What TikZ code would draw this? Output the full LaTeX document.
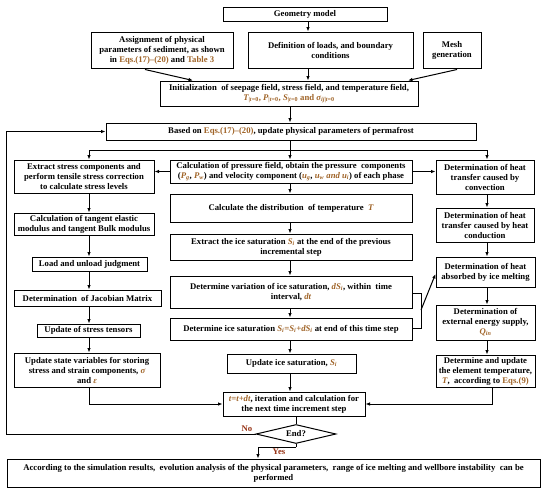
\documentclass[tikz,border=0pt]{standalone}
\usepackage{fontspec}
\setmainfont{Liberation Serif}
\usetikzlibrary{arrows.meta,shapes.geometric}
\definecolor{refc}{RGB}{160,100,40}
\definecolor{yesc}{RGB}{150,50,20}
\newcommand{\R}[1]{{\color{refc}#1}}
\newcommand{\V}[1]{{\color{refc}\itshape #1}}
\begin{document}
\begin{tikzpicture}[x=1pt,y=-1pt,
  box/.style={draw, line width=1pt, fill=white, align=center, inner sep=1pt,
    font=\bfseries\fontsize{8.7}{10}\selectfont},
  arr/.style={line width=1pt, -{Latex[length=4.5pt,width=3.5pt]}},
  ln/.style={line width=1pt},
  lbl/.style={font=\bfseries\fontsize{8.7}{10}\selectfont, text=yesc, inner sep=0pt}]
\useasboundingbox (0,0) rectangle (550,493);
% coordinates for arrow columns
\coordinate (xa) at (89,0);
\coordinate (xm) at (290,0);
\coordinate (xg) at (308,0);
\coordinate (xr) at (487,0);
% boxes
\node[box, minimum width=164pt, minimum height=14pt] (geo) at (305,14) {Geometry model};
\node[box, minimum width=142pt, minimum height=36pt] (assign) at (162,50) {Assignment of physical\\ parameters of sediment, as shown\\ in \R{Eqs.(17)–(20)} and \R{Table 3}};
\node[box, minimum width=165pt, minimum height=36pt] (def) at (330.5,50) {Definition of loads, and boundary\\ conditions};
\node[box, minimum width=58pt, minimum height=36pt] (mesh) at (452,50) {Mesh\\ generation};
\node[box, minimum width=258pt, minimum height=25pt] (init) at (289,93.5) {Initialization \ of seepage field, stress field, and temperature field,\\ \V{T}\R{\textsubscript{|\textit{t}=0}}\R{,} \V{P}\R{\textsubscript{|\textit{t}=0}}\R{,} \V{S}\R{\textsubscript{|\textit{t}=0}} \R{and} \V{σ}\R{\textsubscript{\textit{ij}|\textit{t}=0}}};
\node[box, minimum width=370pt, minimum height=17pt] (based) at (291,131.5) {Based on \R{Eqs.(17)–(20)}, update physical parameters of permafrost};
\node[box, minimum width=140pt, minimum height=33pt] (extract) at (84,176.5) {Extract stress components and\\ perform tensile stress correction\\ to calculate stress levels};
\node[box, minimum width=242pt, minimum height=23pt] (calcp) at (291,171.5) {Calculation of pressure field, obtain the pressure \ components\\ (\V{P}\R{\textsubscript{\textit{g}}}, \V{P}\R{\textsubscript{\textit{w}}}) and velocity component (\V{u}\R{\textsubscript{\textit{g}}}, \V{u}\R{\textsubscript{\textit{w}}} \V{and u}\R{\textsubscript{\textit{i}}}) of each phase};
\node[box, minimum width=98pt, minimum height=34pt] (conv) at (485,177) {Determination of heat\\ transfer caused by\\ convection};
\node[box, minimum width=242pt, minimum height=28pt] (temp) at (291,208) {Calculate the distribution \ of temperature \ \V{T}};
\node[box, minimum width=140pt, minimum height=22pt] (tangent) at (84,224) {Calculation of tangent elastic\\ modulus and tangent Bulk modulus};
\node[box, minimum width=98pt, minimum height=34pt] (cond) at (485,225) {Determination of heat\\ transfer caused by heat\\ conduction};
\node[box, minimum width=242pt, minimum height=26pt] (extice) at (291,247) {Extract the ice saturation \V{S}\R{\textsubscript{\textit{i}}} at the end of the previous\\ incremental step};
\node[box, minimum width=115pt, minimum height=14pt] (load) at (89.5,264) {Load and unload judgment};
\node[box, minimum width=147pt, minimum height=16pt] (jac) at (87.5,298) {Determination \ of Jacobian Matrix};
\node[box, minimum width=99pt, minimum height=30pt] (absorbed) at (485.5,272) {Determination of heat\\ absorbed by ice melting};
\node[box, minimum width=242pt, minimum height=32pt] (var) at (291,292) {Determine variation of ice saturation, \V{dS}\R{\textsubscript{\textit{i}}}, within \ time\\ interval, \V{dt}};
\node[box, minimum width=103pt, minimum height=13pt] (tensors) at (88.5,330.5) {Update of stress tensors};
\node[box, minimum width=242pt, minimum height=22pt] (sat) at (291,329) {Determine ice saturation \V{S}\R{\textsubscript{\textit{i}}}\V{=S}\R{\textsubscript{\textit{i}}}\V{+dS}\R{\textsubscript{\textit{i}}} at end of this time step};
\node[box, minimum width=99pt, minimum height=35pt] (energy) at (485.5,322.5) {Determination of\\ external energy supply,\\ \V{Q}\R{\textsubscript{\textit{in}}}};
\node[box, minimum width=146pt, minimum height=34pt] (state) at (87,370) {Update state variables for storing\\ stress and strain components, \V{σ}\\ and \V{ε}};
\node[box, minimum width=129pt, minimum height=19pt] (updsat) at (291.5,363.5) {Update ice saturation, \V{S}\R{\textsubscript{\textit{i}}}};
\node[box, minimum width=99pt, minimum height=32pt] (detupd) at (485.5,371) {Determine and update\\ the element temperature,\\ \V{T}, \ according to \R{Eqs.(9)}};
\node[box, minimum width=142pt, minimum height=24pt] (tstep) at (294,404) {\V{t=t+dt}, iteration and calculation for\\ the next time increment step};
\node[box, diamond, aspect=4.2, minimum width=80pt, minimum height=19pt, inner sep=0pt] (endq) at (296,434) {End?};
\node[box, minimum width=533pt, minimum height=28pt] (final) at (273.5,473) {According to the simulation results, \ evolution analysis of the physical parameters, \ range of ice melting and wellbore instability \ can be\\ performed};
% top part
\draw[arr] (geo.south -| xg) -- (def.north -| xg);
\draw[arr] (def.south -| xg) -- (init.north -| xg);
\draw[arr] (assign.south) ++(-17,1) coordinate (as1) (as1) -- (193,80.5) coordinate (as2);
\draw[arr] (mesh.south) ++(5,1) coordinate (ms1) (ms1) -- (408,80.5) coordinate (ms2);
\draw[arr] (init.south -| xm) -- (based.north -| xm);
% branch below based
\coordinate (br) at (290,150);
\draw[ln] (based.south -| xm) -- (br);
\draw[ln] (br -| xa) -- (br -| xr);
\draw[arr] (br -| xa) -- (extract.north -| xa);
\draw[arr] (br) -- (calcp.north -| xm);
\draw[arr] (br -| xr) -- (conv.north -| xr);
% horizontals from calcp
\draw[arr] (calcp.west) -- (extract.east |- calcp.west);
\draw[arr] (calcp.east) -- (conv.west |- calcp.east);
% left column
\draw[arr] (extract.south -| xa) -- (tangent.north -| xa);
\draw[arr] (tangent.south -| xa) -- (load.north -| xa);
\draw[arr] (load.south -| xa) -- (jac.north -| xa);
\draw[arr] (jac.south -| xa) -- (tensors.north -| xa);
\draw[arr] (tensors.south -| xa) -- (state.north -| xa);
\draw[arr] (state.south -| xa) |- (tstep.west);
% middle column
\draw[arr] (calcp.south -| xm) -- (temp.north -| xm);
\draw[arr] (temp.south -| xm) -- (extice.north -| xm);
\draw[arr] (extice.south -| xm) -- (var.north -| xm);
\draw[arr] (var.south -| xm) -- (sat.north -| xm);
\draw[arr] (sat.south -| xm) -- (updsat.north -| xm);
\draw[arr] (updsat.south -| xm) -- (tstep.north -| xm);
\draw[ln] (tstep.south -| endq.north) -- (endq.north);
% right column
\draw[arr] (conv.south -| xr) -- (cond.north -| xr);
\draw[arr] (cond.south -| xr) -- (absorbed.north -| xr);
\draw[arr] (absorbed.south -| xr) -- (energy.north -| xr);
\draw[arr] (energy.south -| xr) -- (detupd.north -| xr);
\coordinate (xd) at (492,0);
\draw[arr] (detupd.south -| xd) |- (tstep.east);
% bracket
\coordinate (bt) at (421,293);
\coordinate (bb) at (421,328);
\coordinate (bm) at (421,310);
\draw[ln] (var.east |- bt) -- (bt) -- (bb) -- (sat.east |- bb);
\draw[arr] (bm) -- (absorbed.west |- 0,274);
% End? loop
\coordinate (lx) at (6,0);
\draw[arr] (endq.west) -- (endq.west -| lx) |- (based.west);
\node[lbl, anchor=south] (nolbl) at (247,432) {No};
\coordinate (yb) at (296,447);
\coordinate (yx) at (258,0);
\draw[ln] (endq.south) -- (yb);
\draw[arr] (yb) -- (yb -| yx) -- (final.north -| yx);
\node[lbl, anchor=north] (yeslbl) at (279,449) {Yes};
\end{tikzpicture}
\end{document}
